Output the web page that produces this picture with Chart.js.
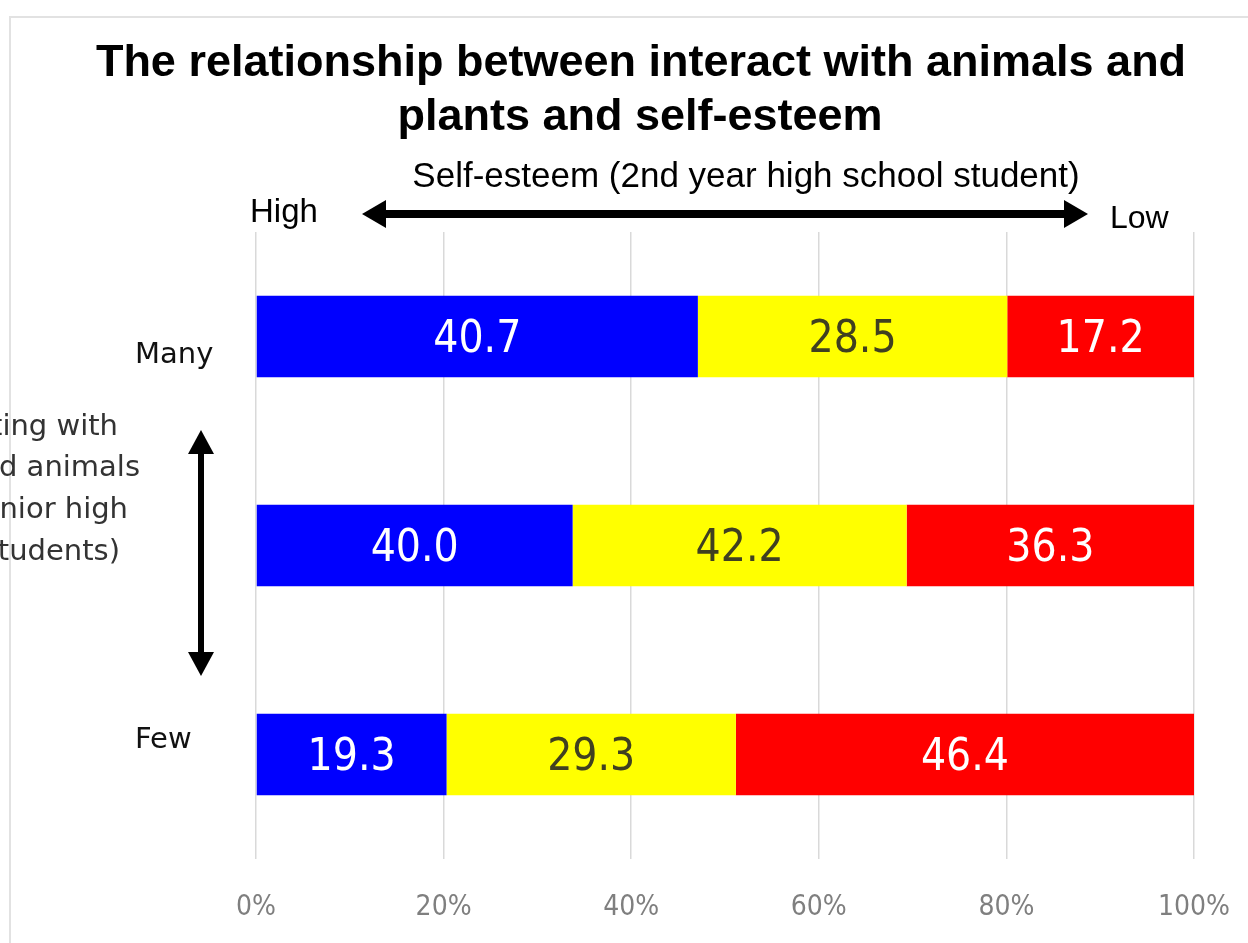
<!DOCTYPE html>
<html>
<head>
<meta charset="utf-8">
<script src="https://cdn.jsdelivr.net/npm/chart.js@4"></script>
<style>
  html, body { margin: 0; padding: 0; background: #fff; }
  #wrap { width: 1248px; height: 943px; position: relative; }
</style>
</head>
<body>
<div id="wrap"><canvas id="chart_f" width="1248" height="943"></canvas></div>
<script>
const categories = ['Many', '', 'Few']
const highValues = [40.7, 40.0, 19.3]
const midValues = [28.5, 42.2, 29.3]
const lowValues = [17.2, 36.3, 46.4]
const tickValues = [0, 20, 40, 60, 80, 100]

const titleLines = ['The relationship between interact with animals and', 'plants and self-esteem']
const subTitle = 'Self-esteem (2nd year high school student)'
const sideLines = ['Interacting with', 'plants and animals', '(junior high', 'school students)']

// each row is shown as a share of its own total
const totals = highValues.map((v, i) => v + midValues[i] + lowValues[i])
const share = arr => arr.map((v, i) => v / totals[i] * 100)

const rawByDataset = [highValues, midValues, lowValues]

const valueLabels = {
    id: 'valueLabels',
    afterDatasetsDraw(chart) {
        const ctx = chart.ctx
        ctx.save()
        ctx.font = '44px "Liberation Sans Narrow", "DejaVu Sans Condensed", sans-serif'
        ctx.textAlign = 'center'
        ctx.textBaseline = 'middle'
        chart.data.datasets.forEach((ds, di) => {
            const meta = chart.getDatasetMeta(di)
            meta.data.forEach((bar, i) => {
                ctx.fillStyle = ds.labelColor
                ctx.fillText(rawByDataset[di][i].toFixed(1), (bar.x + bar.base) / 2, bar.y + 4)
            })
        })
        ctx.restore()
    }
}

function arrow(ctx, x1, y1, x2, y2, w, headLen, headHalf) {
    const ang = Math.atan2(y2 - y1, x2 - x1)
    const cos = Math.cos(ang), sin = Math.sin(ang)
    ctx.lineWidth = w
    ctx.beginPath()
    ctx.moveTo(x1 + cos * headLen * 0.8, y1 + sin * headLen * 0.8)
    ctx.lineTo(x2 - cos * headLen * 0.8, y2 - sin * headLen * 0.8)
    ctx.stroke()
    const head = (tx, ty, dir) => {
        const bx = tx - cos * headLen * dir, by = ty - sin * headLen * dir
        ctx.beginPath()
        ctx.moveTo(tx, ty)
        ctx.lineTo(bx - sin * headHalf, by + cos * headHalf)
        ctx.lineTo(bx + sin * headHalf, by - cos * headHalf)
        ctx.closePath()
        ctx.fill()
    }
    head(x2, y2, 1)
    head(x1, y1, -1)
}

const decorations = {
    id: 'decorations',
    beforeDraw(chart) {
        const ctx = chart.ctx
        ctx.save()
        ctx.fillStyle = '#fff'
        ctx.fillRect(0, 0, chart.width, chart.height)
        // frame edges
        ctx.strokeStyle = '#e2e2e2'
        ctx.lineWidth = 2
        ctx.beginPath()
        ctx.moveTo(10, chart.height)
        ctx.lineTo(10, 17)
        ctx.lineTo(chart.width, 17)
        ctx.stroke()
        ctx.restore()
    },
    afterDraw(chart) {
        const ctx = chart.ctx
        const y = chart.scales.y
        ctx.save()
        ctx.fillStyle = '#000'
        ctx.textAlign = 'center'
        ctx.textBaseline = 'middle'
        ctx.font = 'bold 45px "Liberation Sans", Arial, sans-serif'
        ctx.fillText(titleLines[0], 641, 64)
        ctx.fillText(titleLines[1], 640, 118)

        ctx.font = '35px "Liberation Sans", Arial, sans-serif'
        ctx.fillText(subTitle, 746, 177)

        ctx.textAlign = 'left'
        ctx.font = '33px "Liberation Sans", Arial, sans-serif'
        ctx.fillText('High', 250, 213)
        ctx.font = '32px "Liberation Sans", Arial, sans-serif'
        ctx.fillText('Low', 1110, 219)

        ctx.font = '29px "DejaVu Sans", Verdana, sans-serif'
        ctx.fillStyle = '#111'
        ctx.fillText(categories[0], 135, y.getPixelForValue(0) + 19)
        ctx.fillText(categories[2], 135, y.getPixelForValue(2) - 14)

        ctx.fillStyle = '#333'
        ctx.textAlign = 'right'
        ctx.font = '29px "DejaVu Sans", Verdana, sans-serif'
        const rightEdges = [118, 140, 128, 120]
        sideLines.forEach((t, i) => ctx.fillText(t, rightEdges[i], 427 + i * 41.7))

        ctx.fillStyle = '#000'
        ctx.strokeStyle = '#000'
        arrow(ctx, 362, 214, 1088, 214, 8, 24, 14)
        arrow(ctx, 201, 430, 201, 676, 6, 24, 13)
        ctx.restore()
    }
}

const ctx = document.getElementById('chart_f').getContext('2d')
const myChart = new Chart(ctx, {
    type: 'bar',
    data: {
        labels: categories,
        datasets: [{
            label: 'High',
            data: share(highValues),
            backgroundColor: '#0000ff',
            labelColor: '#ffffff'
        }, {
            label: 'Middle',
            data: share(midValues),
            backgroundColor: '#ffff00',
            labelColor: '#404020'
        }, {
            label: 'Low',
            data: share(lowValues),
            backgroundColor: '#ff0000',
            labelColor: '#ffffff'
        }]
    },
    options: {
        indexAxis: 'y',
        responsive: false,
        animation: false,
        barPercentage: 0.39,
        categoryPercentage: 1,
        layout: {
            padding: { left: 256, right: 54, top: 232, bottom: 0 }
        },
        scales: {
            x: {
                stacked: true,
                min: 0,
                max: 100,
                afterBuildTicks: axis => { axis.ticks = tickValues.map(v => ({ value: v })) },
                afterFit: axis => {
                    axis.height = 84
                    axis.paddingLeft = 0
                    axis.paddingRight = 0
                },
                grid: { color: '#d9d9d9', lineWidth: 1.5, drawTicks: false },
                border: { display: false },
                ticks: {
                    padding: 32,
                    color: '#7f7f7f',
                    maxRotation: 0,
                    font: { size: 28, family: '"Liberation Sans Narrow", "DejaVu Sans Condensed", sans-serif' },
                    callback: v => v + '%'
                }
            },
            y: {
                stacked: true,
                display: false
            }
        },
        plugins: {
            legend: { display: false },
            tooltip: { enabled: false }
        }
    },
    plugins: [decorations, valueLabels]
})
</script>
</body>
</html>
